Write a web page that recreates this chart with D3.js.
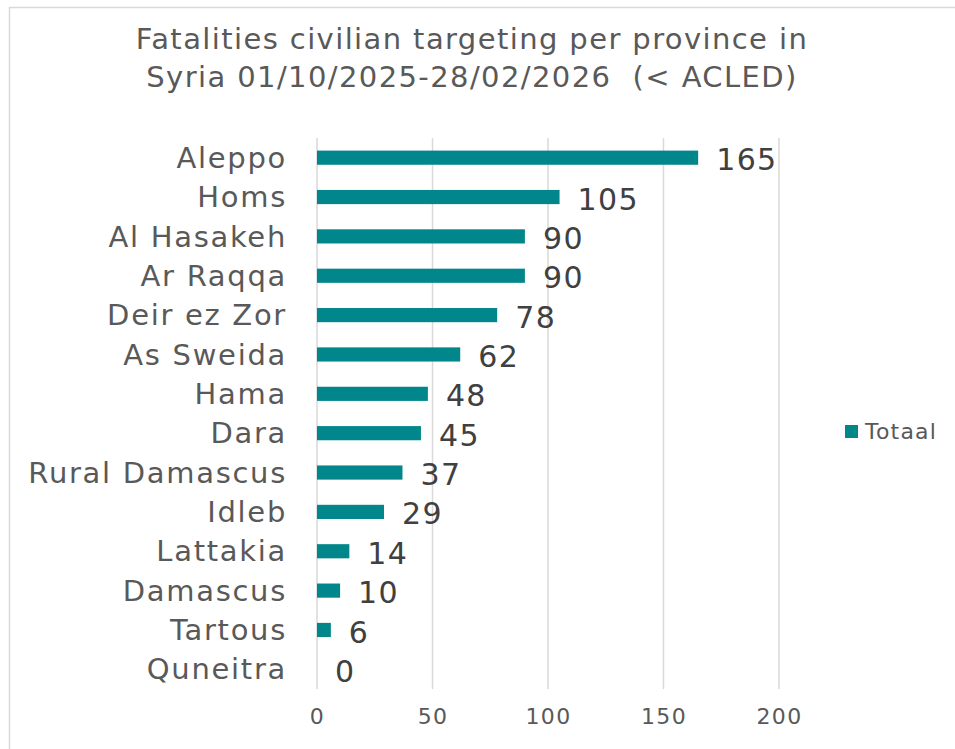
<!DOCTYPE html>
<html>
<head>
<meta charset="utf-8">
<script src="https://cdn.jsdelivr.net/npm/d3@7"></script>
<style>
  body { margin: 0; background: #fff; }
  text { font-family: "DejaVu Sans", Verdana, sans-serif; }
</style>
</head>
<body>
<div id="chart"></div>
<script>
var provinces = ["Aleppo", "Homs", "Al Hasakeh", "Ar Raqqa", "Deir ez Zor", "As Sweida", "Hama",
  "Dara", "Rural Damascus", "Idleb", "Lattakia", "Damascus", "Tartous", "Quneitra"];
var totaal = [165, 105, 90, 90, 78, 62, 48, 45, 37, 29, 14, 10, 6, 0];
var xTicks = [0, 50, 100, 150, 200];
var titleLines = ["Fatalities civilian targeting per province in", "Syria 01/10/2025-28/02/2026  (< ACLED)"];
var seriesName = "Totaal";

var W = 955, H = 749;
var margins = { top: 138, right: 176, bottom: 60, left: 317 };
var barColor = "#00868b";

var svg = d3.select("#chart")
  .append("svg")
  .attr("width", W)
  .attr("height", H);

// chart area border (runs off the right and bottom edge like the original)
svg.append("rect")
  .attr("x", 9.5).attr("y", 7.5)
  .attr("width", W + 10).attr("height", H + 10)
  .attr("fill", "none").attr("stroke", "#d9d9d9").attr("stroke-width", 1.5);

// title
svg.append("text")
  .attr("x", 472).attr("y", 49)
  .style("text-anchor", "middle")
  .style("font-size", "29px")
  .style("letter-spacing", "1.4px")
  .style("white-space", "pre")
  .attr("fill", "#595959")
  .selectAll("tspan")
  .data(titleLines).enter()
  .append("tspan")
  .attr("x", 472)
  .attr("dy", function (d, i) { return i == 0 ? 0 : 38; })
  .text(function (d) { return d; });

var x = d3.scaleLinear().domain([0, 200]).range([margins.left, 779]);
var y = d3.scaleBand().domain(provinces).range([margins.top, 689]).paddingInner(0.64).paddingOuter(0.32);

// vertical gridlines
svg.append("g")
  .selectAll("line")
  .data(xTicks).enter()
  .append("line")
  .attr("x1", function (d) { return x(d); })
  .attr("x2", function (d) { return x(d); })
  .attr("y1", margins.top).attr("y2", 689)
  .attr("stroke", "#d9d9d9").attr("stroke-width", 1.5);

// x axis labels
var xAxis = svg.append("g")
  .attr("transform", "translate(0,700)")
  .call(d3.axisBottom(x).tickValues(xTicks).tickSize(0).tickPadding(8));
xAxis.select(".domain").remove();
xAxis.selectAll("text")
  .style("font-size", "22px")
  .style("letter-spacing", "1.3px")
  .style("font-family", "'DejaVu Sans', Verdana, sans-serif")
  .attr("fill", "#595959");

// category labels
var yAxis = svg.append("g")
  .attr("transform", "translate(" + (margins.left - 30) + ",0)")
  .call(d3.axisLeft(y).tickSize(0).tickPadding(0));
yAxis.select(".domain").remove();
yAxis.selectAll("text")
  .style("font-size", "29px")
  .style("letter-spacing", "1.7px")
  .style("font-family", "'DejaVu Sans', Verdana, sans-serif")
  .attr("fill", "#595959")
  .attr("dy", "0.35em");

// bars
svg.append("g")
  .selectAll("rect")
  .data(provinces).enter()
  .append("rect")
  .attr("x", x(0))
  .attr("y", function (d) { return y(d); })
  .attr("width", function (d, i) { return x(totaal[i]) - x(0); })
  .attr("height", y.bandwidth())
  .attr("fill", barColor);

// value labels
svg.append("g")
  .selectAll("text")
  .data(provinces).enter()
  .append("text")
  .attr("x", function (d, i) { return x(totaal[i]) + 18; })
  .attr("y", function (d) { return y(d) + y.bandwidth() / 2; })
  .attr("dy", "0.42em")
  .style("font-size", "30px")
  .style("letter-spacing", "1.4px")
  .attr("fill", "#404040")
  .text(function (d, i) { return totaal[i]; });

// legend
svg.append("rect")
  .attr("x", 845).attr("y", 425)
  .attr("width", 13).attr("height", 13)
  .attr("fill", barColor);
svg.append("text")
  .attr("x", 865).attr("y", 431)
  .attr("dy", "0.36em")
  .style("font-size", "22px")
  .style("letter-spacing", "1.2px")
  .attr("fill", "#595959")
  .text(seriesName);
</script>
</body>
</html>
